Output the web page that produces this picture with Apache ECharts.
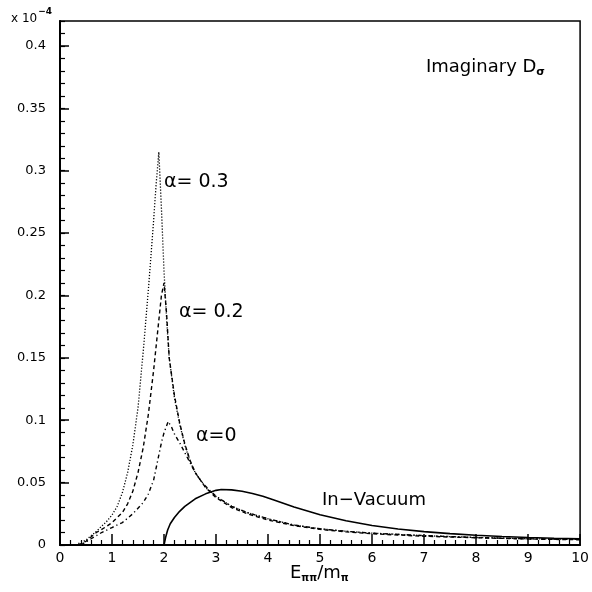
<!DOCTYPE html>
<html>
<head>
<meta charset="utf-8">
<script src="https://cdn.jsdelivr.net/npm/echarts@6/dist/echarts.min.js"></script>
<style>
  html, body { margin: 0; padding: 0; background: #fff; }
  #chart { width: 592px; height: 592px; }
</style>
</head>
<body>
<div id="chart"></div>
<script>
// curve values, units of 10^-4
var xAlpha03 = [0.3, 0.5, 0.7, 0.9, 1.0, 1.1, 1.2, 1.3, 1.4, 1.5, 1.6, 1.7, 1.8, 1.85, 1.9, 1.95, 2.0, 2.05, 2.1, 2.2, 2.3, 2.4, 2.5, 2.6, 2.8, 3.0, 3.3, 3.6, 4.0, 4.5, 5, 5.5, 6, 7, 8, 9, 10];
var yAlpha03 = [0, 0.004, 0.011, 0.019, 0.024, 0.031, 0.042, 0.058, 0.08, 0.11, 0.155, 0.205, 0.26, 0.29, 0.315, 0.27, 0.22, 0.18, 0.15, 0.118, 0.097, 0.08, 0.067, 0.058, 0.046, 0.039, 0.031, 0.026, 0.021, 0.016, 0.013, 0.011, 0.0095, 0.0075, 0.006, 0.005, 0.0045];

var xAlpha02 = [0.35, 0.5, 0.7, 0.9, 1.0, 1.1, 1.2, 1.3, 1.4, 1.5, 1.6, 1.7, 1.8, 1.9, 1.95, 2.0, 2.05, 2.1, 2.2, 2.3, 2.4, 2.5, 2.6, 2.8, 3.0, 3.3, 3.6, 4.0, 4.5, 5, 5.5, 6, 7, 8, 9, 10];
var yAlpha02 = [0, 0.003, 0.01, 0.015, 0.018, 0.022, 0.026, 0.033, 0.043, 0.058, 0.078, 0.105, 0.14, 0.18, 0.2, 0.21, 0.185, 0.15, 0.12, 0.098, 0.081, 0.068, 0.058, 0.046, 0.038, 0.03, 0.025, 0.02, 0.0155, 0.0125, 0.0105, 0.009, 0.007, 0.0058, 0.0048, 0.0042];

var xAlpha0 = [0.4, 0.6, 0.8, 1.0, 1.2, 1.4, 1.6, 1.7, 1.8, 1.9, 1.95, 2.0, 2.08, 2.15, 2.2, 2.3, 2.4, 2.5, 2.6, 2.7, 2.8, 3.0, 3.3, 3.6, 4.0, 4.5, 5, 5.5, 6, 7, 8, 9, 10];
var yAlpha0 = [0, 0.005, 0.01, 0.014, 0.018, 0.025, 0.034, 0.041, 0.052, 0.072, 0.082, 0.09, 0.099, 0.094, 0.089, 0.082, 0.074, 0.066, 0.058, 0.052, 0.047, 0.039, 0.031, 0.026, 0.021, 0.016, 0.013, 0.011, 0.0095, 0.0075, 0.006, 0.005, 0.0045];

var xVacuum = [2.0, 2.03, 2.07, 2.12, 2.2, 2.3, 2.4, 2.5, 2.6, 2.8, 3.0, 3.1, 3.3, 3.5, 3.7, 3.9, 4.1, 4.5, 5.0, 5.5, 6.0, 6.5, 7, 7.5, 8, 8.5, 9, 9.5, 10];
var yVacuum = [0, 0.006, 0.012, 0.017, 0.022, 0.027, 0.031, 0.034, 0.037, 0.041, 0.0438, 0.0445, 0.0442, 0.0431, 0.0413, 0.039, 0.0363, 0.0305, 0.0243, 0.0194, 0.0156, 0.0128, 0.0107, 0.0091, 0.0078, 0.0068, 0.006, 0.0054, 0.0049];

var FONT = 'DejaVu Sans';

function pairs(xs, ys) { // zip x and y into [x, y]
  return xs.map(function (x, i) { return [x, ys[i]]; });
}

function curve(name, xs, ys, type, width) {
  return {
    name: name,
    type: 'line',
    showSymbol: false,
    silent: true,
    data: pairs(xs, ys),
    lineStyle: { color: '#000', width: width, type: type },
    z: 3
  };
}

var chart = echarts.init(document.getElementById('chart'));

var option = {
  animation: false,
  backgroundColor: '#fff',
  grid: {
    left: 60, right: 7, top: 21, bottom: 47,
    show: true, borderColor: '#000', borderWidth: 1.5
  },
  xAxis: {
    type: 'value', min: 0, max: 10, interval: 1,
    axisLine: { lineStyle: { color: '#000', width: 2 } },
    axisTick: { inside: true, length: 11, lineStyle: { color: '#000', width: 1.5 } },
    minorTick: { show: true, splitNumber: 5, length: 5, lineStyle: { color: '#000', width: 1.2 } },
    splitLine: { show: false },
    axisLabel: { color: '#000', fontFamily: FONT, fontSize: 14, margin: 6 }
  },
  yAxis: [
    { // major ticks and labels
      type: 'value', min: 0, max: 0.42, interval: 0.05,
      axisLine: { lineStyle: { color: '#000', width: 2 } },
      axisTick: { inside: true, length: 9, lineStyle: { color: '#000', width: 1.5 } },
      splitLine: { show: false },
      axisLabel: {
        color: '#000', fontFamily: FONT, fontSize: 13, margin: 14,
        showMaxLabel: false,
        formatter: function (v) {
          var k = Math.round(v * 100);
          return k % 5 === 0 ? String(k / 100) : '';
        }
      }
    },
    { // minor ticks every 0.01
      type: 'value', min: 0, max: 0.42, interval: 0.01, position: 'left',
      axisLine: { show: false },
      axisTick: { inside: true, length: 5, lineStyle: { color: '#000', width: 1.2 } },
      axisLabel: { show: false },
      splitLine: { show: false }
    }
  ],
  series: [
    curve('alpha=0.3', xAlpha03, yAlpha03, [1.2, 1.8], 1.3),
    curve('alpha=0.2', xAlpha02, yAlpha02, [4, 3], 1.4),
    curve('alpha=0', xAlpha0, yAlpha0, [4, 3, 1.2, 3], 1.4),
    curve('In-Vacuum', xVacuum, yVacuum, 'solid', 1.6)
  ],
  graphic: [
    { type: 'text', left: 11, top: 7, style: {
        text: '{a|x 10}{s|−4}', fill: '#000',
        rich: {
          a: { fontFamily: FONT, fontSize: 12, fill: '#000', verticalAlign: 'bottom', lineHeight: 18 },
          s: { fontFamily: FONT, fontSize: 9, fontWeight: 'bold', fill: '#000', verticalAlign: 'top', lineHeight: 12, padding: [0, 0, 8, 1] }
        } } },
    { type: 'text', left: 426, top: 58, style: {
        text: '{a|Imaginary D}{s|σ}', fill: '#000',
        rich: {
          a: { fontFamily: FONT, fontSize: 18, fill: '#000' },
          s: { fontFamily: FONT, fontSize: 11, fontWeight: 'bold', fill: '#000', padding: [10, 0, 0, 0] }
        } } },
    { type: 'text', left: 164, top: 173, style: { text: 'α= 0.3', fontFamily: FONT, fontSize: 19, fill: '#000' } },
    { type: 'text', left: 179, top: 303, style: { text: 'α= 0.2', fontFamily: FONT, fontSize: 19, fill: '#000' } },
    { type: 'text', left: 196, top: 427, style: { text: 'α=0', fontFamily: FONT, fontSize: 19, fill: '#000' } },
    { type: 'text', left: 322, top: 491, style: { text: 'In−Vacuum', fontFamily: FONT, fontSize: 18, fill: '#000' } },
    { type: 'text', left: 290, top: 564, style: {
        text: '{a|E}{s|ππ}{a|/m}{s|π}', fill: '#000',
        rich: {
          a: { fontFamily: FONT, fontSize: 18, fill: '#000' },
          s: { fontFamily: FONT, fontSize: 10, fontWeight: 'bold', fill: '#000', padding: [10, 0, 0, 0] }
        } } }
  ]
};
chart.setOption(option);
</script>
</body>
</html>
